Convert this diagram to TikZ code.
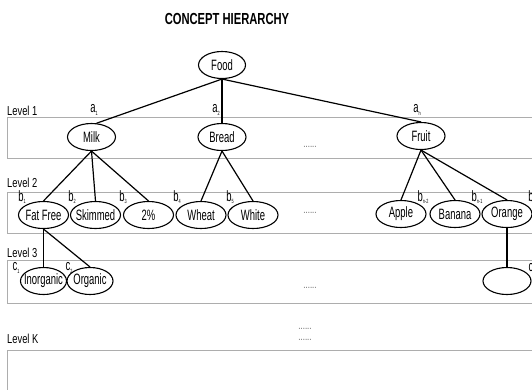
\documentclass[tikz,border=0pt]{standalone}
\usepackage{fontspec}
\setmainfont{Liberation Sans}[FakeStretch=0.72]
\newfontfamily\titlefont{Liberation Sans}[FakeStretch=0.7]
\newfontfamily\nodefont{Liberation Sans}[FakeStretch=0.63]
\usetikzlibrary{shapes.geometric}
\newcommand\ct[1]{\makebox[0pt]{#1}}
\newcommand\sbs[1]{\raisebox{-2.5pt}{\fontsize{6}{7}\selectfont #1}}
\tikzset{
  concept/.style={ellipse, draw, line width=1.1pt, minimum width=50pt, minimum height=27pt, inner sep=0pt, font=\nodefont\fontsize{15}{17}\selectfont},
  band/.style={draw=black!32, line width=0.9pt},
  lvl/.style={anchor=west, inner sep=0pt, font=\fontsize{13}{15}\selectfont},
  subl/.style={inner sep=0pt, font=\nodefont\fontsize{15}{17}\selectfont},
  dotsl/.style={inner sep=0pt, font=\fontsize{11}{13}\selectfont, text=black!60},
  link/.style={line width=1.2pt},
}
\begin{document}
\begin{tikzpicture}[x=1pt,y=-1pt]
\useasboundingbox (0,0) rectangle (532,389);
% title
\node[inner sep=0pt, font=\titlefont\bfseries\fontsize{16}{18}\selectfont] (title) at (227,19) {CONCEPT HIERARCHY};
% bands
\begin{scope}
\clip (0,0) rectangle (532,389);
\draw[band] (7,117) rectangle (545,158);
\draw[band] (7,192) rectangle (545,233);
\draw[band] (7,260) rectangle (545,303);
\draw[band] (7,350) rectangle (545,400);
\end{scope}
% level labels
\node[lvl] (l1) at (7,111) {Level 1};
\node[lvl] (l2) at (7,183) {Level 2};
\node[lvl] (l3) at (7,253) {Level 3};
\node[lvl] (lk) at (7,339) {Level K};
% nodes
\node[concept, minimum width=47pt] (food) at (222,65) {\ct{Food}};
\node[concept, minimum width=48pt] (milk) at (91.5,137) {\ct{Milk}};
\node[concept, minimum width=48pt] (bread) at (222,137) {\ct{Bread}};
\node[concept, minimum width=48pt] (fruit) at (421,136) {\ct{Fruit}};
\node[concept] (ff) at (43.5,215) {\ct{Fat Free}};
\node[concept] (sk) at (95.5,215) {\ct{Skimmed}};
\node[concept] (p2) at (148.5,215) {\ct{2\%}};
\node[concept] (wh) at (201,215) {\ct{Wheat}};
\node[concept] (wt) at (253,215) {\ct{White}};
\node[concept] (ap) at (401,214) {\ct{Apple}};
\node[concept] (bn) at (455,214) {\ct{Banana}};
\node[concept] (or) at (507,214) {\ct{Orange}};
\node[concept, minimum width=46pt] (in) at (43.5,281) {\ct{Inorganic}};
\node[concept, minimum width=46pt] (og) at (90,281) {\ct{Organic}};
\node[concept, minimum width=48pt] (em) at (507,281) {};
% subscript labels
\node[subl] (a1) at (94,110) {a\sbs{1}};
\node[subl] (a2) at (216,110) {a\sbs{2}};
\node[subl] (an) at (417,110) {a\sbs{n}};
\node[subl] (b1) at (22,197) {b\sbs{1}};
\node[subl] (b2) at (72,197) {b\sbs{2}};
\node[subl] (b3) at (123,197) {b\sbs{3}};
\node[subl] (b4) at (177,197) {b\sbs{4}};
\node[subl] (b5) at (230,197) {b\sbs{5}};
\node[subl] (bn2) at (423,197) {b\sbs{n-2}};
\node[subl] (bn1) at (477,197) {b\sbs{n-1}};
\node[subl] (bnn) at (532,197) {b\sbs{n}};
\node[subl] (c1) at (16,268) {c\sbs{1}};
\node[subl] (c2) at (69,268) {c\sbs{2}};
\node[subl] (cn) at (532,269) {c\sbs{n}};
% dots
\node[dotsl] (d1) at (310,147) {......};
\node[dotsl] (d2) at (310,213) {......};
\node[dotsl] (d3) at (310,288) {......};
\node[dotsl] (dk1) at (305,329) {......};
\node[dotsl] (dk2) at (305,340) {......};
% connectors
\draw[link] (food.south) -- (milk.70);
\draw[link] (food.south) -- (bread.north);
\draw[link] (food.south) -- (fruit.north);
\draw[link] (milk.south) -- (ff.north);
\draw[link] (milk.south) -- (sk.north);
\draw[link] (milk.south) -- (p2.north);
\draw[link] (bread.south) -- (wh.north);
\draw[link] (bread.south) -- (wt.north);
\draw[link] (fruit.south) -- (ap.north);
\draw[link] (fruit.south) -- (bn.north);
\draw[link] (fruit.south) -- (or.north);
\draw[link] (ff.south) -- (in.north);
\draw[link] (ff.south) -- (og.north);
\draw[link] (or.south) -- (em.north);
\end{tikzpicture}
\end{document}
